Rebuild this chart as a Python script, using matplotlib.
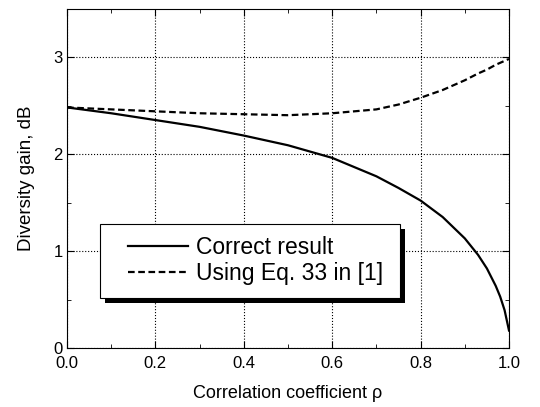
import numpy as np
import matplotlib
matplotlib.use('Agg')
from matplotlib import pyplot as plt
from matplotlib import patheffects as pe
from matplotlib.patches import Rectangle
from matplotlib.ticker import MultipleLocator

plt.rcParams['font.family'] = ['Liberation Sans', 'DejaVu Sans']

# values
rho = [0.0, 0.1, 0.2, 0.3, 0.4, 0.5, 0.6, 0.7, 0.75, 0.8, 0.85, 0.9, 0.93, 0.95, 0.97, 0.98, 0.99, 1.0]
correct = [2.48, 2.42, 2.35, 2.28, 2.19, 2.09, 1.96, 1.77, 1.65, 1.52, 1.35, 1.13, 0.96, 0.82, 0.64, 0.53, 0.39, 0.18]
eq33 = [2.48, 2.46, 2.44, 2.42, 2.41, 2.40, 2.42, 2.46, 2.51, 2.58, 2.66, 2.76, 2.83, 2.87, 2.92, 2.94, 2.96, 2.98]

fig = plt.figure(figsize=(5.4, 4.07), dpi=100)
ax = fig.add_axes([67/540, 1-348/407, 442/540, 339.5/407])

ax.plot(rho, correct, 'k-', lw=1.6, label='Correct result')
ax.plot(rho, eq33, 'k--', lw=1.6, dashes=(3, 1.6), label='Using Eq. 33 in [1]')

ax.set_xlim(0, 1)
ax.set_ylim(0, 3.5)
ax.xaxis.set_major_locator(MultipleLocator(0.2))
ax.xaxis.set_minor_locator(MultipleLocator(0.1))
ax.yaxis.set_major_locator(MultipleLocator(1))
ax.yaxis.set_minor_locator(MultipleLocator(0.5))
ax.xaxis.set_major_formatter(plt.FuncFormatter(lambda v, p: '%.1f' % v))
ax.tick_params(which='both', direction='in', top=True, right=True, labelsize=12)
ax.tick_params(axis='x', pad=5.5)
ax.tick_params(axis='y', pad=3)
ax.tick_params(which='major', length=5)
ax.tick_params(which='minor', length=3)
ax.grid(True, which='major', ls=':', color='k', lw=0.8)

ax.set_xlabel('Correlation coefficient \u03c1', fontsize=13, labelpad=10.5)
ax.set_ylabel('Diversity gain, dB', fontsize=13.5, labelpad=13)

# legend box with a solid black shadow
box = Rectangle((0.075, 0.147), 0.679, 0.218, transform=ax.transAxes,
                facecolor='white', edgecolor='k', lw=0.8, zorder=4)
box.set_path_effects([pe.SimplePatchShadow(offset=(3.6, -3.6), shadow_rgbFace='k', alpha=1),
                      pe.Normal()])
ax.add_patch(box)

leg = ax.legend(loc='upper left', bbox_to_anchor=(0.138, 0.33), borderaxespad=0,
                fontsize=16.5, frameon=False, borderpad=0,
                handlelength=2.6, handletextpad=0.35, labelspacing=0.15)
leg.set_zorder(5)

fig.savefig('out.png', dpi=100)
